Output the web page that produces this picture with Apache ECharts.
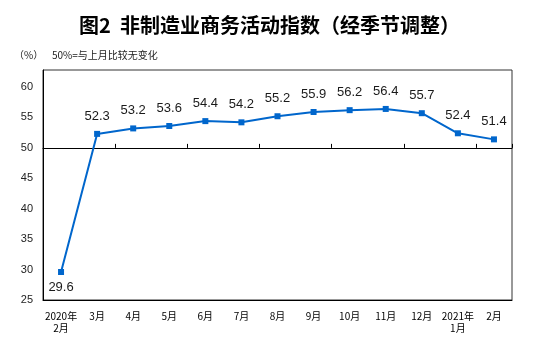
<!DOCTYPE html>
<html><head><meta charset="utf-8">
<script src="https://cdn.jsdelivr.net/npm/echarts@6/dist/echarts.min.js"></script>
<style>html,body{margin:0;padding:0;background:#fff}#c{width:553px;height:343px}</style>
</head><body><div id="c"></div>
<script>
const categories = ['2020年\n2月','3月','4月','5月','6月','7月','8月','9月','10月','11月','12月','2021年\n1月','2月'];
const values = [29.6, 52.3, 53.2, 53.6, 54.4, 54.2, 55.2, 55.9, 56.2, 56.4, 55.7, 52.4, 51.4];
const yMin = 25, yMax = 62.8, yInterval = 5, refLine = 50;
const gridTop = 70, gridBottom = 43, gridLeft = 43, gridRight = 41;
const gridH = 343 - gridTop - gridBottom;
const chart = echarts.init(document.getElementById('c'), null, {renderer: 'canvas'});
chart.setOption({
  animation: false,
  backgroundColor: '#fff',
  title: {
    text: '图2  非制造业商务活动指数（经季节调整）',
    left: 74, top: 10,
    textStyle: {fontFamily: 'Noto Sans CJK SC', fontWeight: 'bold', fontSize: 20, color: '#000'}
  },
  graphic: [
    {type: 'text', left: 14, top: 50, style: {text: '（%）', font: '10px "Noto Sans CJK SC"', fill: '#222'}},
    {type: 'text', left: 52, top: 50, style: {text: '50%=与上月比较无变化', font: '10px "Noto Sans CJK SC"', fill: '#222'}}
  ],
  grid: {left: gridLeft, right: gridRight, top: gridTop, bottom: gridBottom, show: true, borderColor: '#333', borderWidth: 1},
  xAxis: [
    {
      type: 'category', data: categories, boundaryGap: true, position: 'bottom',
      axisLine: {lineStyle: {color: '#000', width: 1}},
      axisTick: {show: false},
      axisLabel: {margin: 10, fontSize: 10, lineHeight: 12, color: '#000', fontFamily: 'Noto Sans CJK SC', interval: 0}
    },
    {
      type: 'category', data: categories, boundaryGap: true, position: 'bottom',
      offset: -((refLine - yMin) / (yMax - yMin)) * gridH,
      axisLine: {lineStyle: {color: '#000', width: 1}},
      axisTick: {show: true, inside: true, length: 4, lineStyle: {color: '#000'}},
      axisLabel: {show: false}
    }
  ],
  yAxis: {
    type: 'value', min: yMin, max: yMax, interval: yInterval,
    axisLine: {show: true, lineStyle: {color: '#000'}},
    axisTick: {show: false},
    splitLine: {show: false},
    axisLabel: {showMaxLabel: false, fontSize: 11, color: '#222', fontFamily: 'Liberation Sans', margin: 10}
  },
  series: [{
    type: 'line', xAxisIndex: 0, data: values.map((v, i) => i === 0 ? {value: v, label: {position: 'bottom', distance: 6}} : v),
    symbol: 'rect', symbolSize: 6,
    lineStyle: {color: '#0066CC', width: 2},
    itemStyle: {color: '#0066CC'},
    label: {show: true, position: 'top', distance: 8, fontSize: 13, color: '#1a1a1a', fontFamily: 'Liberation Sans'}
  }]
});
</script></body></html>
